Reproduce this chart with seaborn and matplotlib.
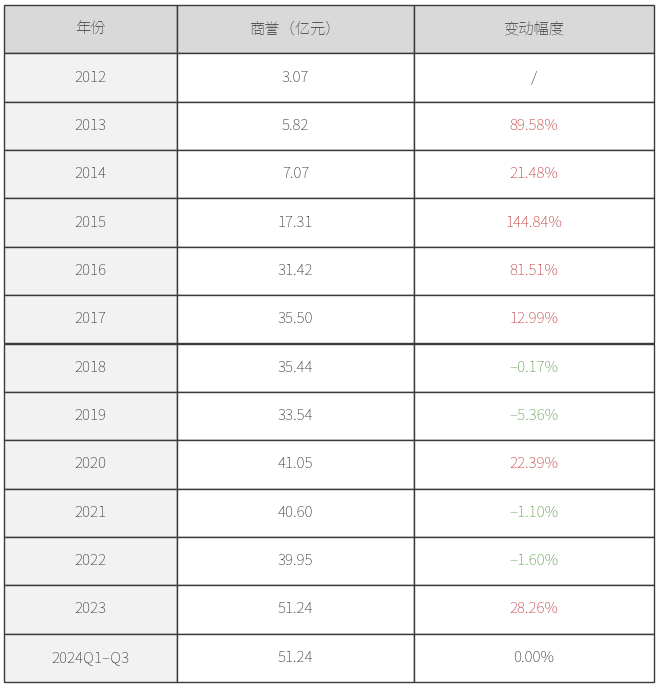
import numpy as np
import matplotlib
matplotlib.use("Agg")
import matplotlib.pyplot as plt
from matplotlib.patches import Rectangle
import seaborn as sns

headers = ["年份", "商誉（亿元）", "变动幅度"]
years = ["2012", "2013", "2014", "2015", "2016", "2017", "2018", "2019",
         "2020", "2021", "2022", "2023", "2024Q1–Q3"]
goodwill = ["3.07", "5.82", "7.07", "17.31", "31.42", "35.50", "35.44", "33.54",
            "41.05", "40.60", "39.95", "51.24", "51.24"]
changes = ["/", "89.58%", "21.48%", "144.84%", "81.51%", "12.99%", "-0.17%", "-5.36%",
           "22.39%", "-1.10%", "-1.60%", "28.26%", "0.00%"]

sns.set_theme(style="white")
plt.rcParams["font.family"] = ["Noto Sans CJK SC", "Noto Sans CJK JP", "Noto Sans CJK TC", "DejaVu Sans"]

fig = plt.figure(figsize=(6.6, 6.88), dpi=100)
ax = fig.add_axes([0, 0, 1, 1])
ax.set_xlim(0, 660)
ax.set_ylim(688, 0)
ax.axis("off")

col_edges = [4, 177, 414, 654]
top, bottom = 5, 682
nrows = len(years) + 1
rh = (bottom - top) / nrows

def color_for(c):
    if c.startswith("-"):
        return "#5b9a4b"
    if c in ("/", "0.00%"):
        return "#333333"
    return "#c0393b"

for r in range(nrows):
    y0 = top + r * rh
    for c in range(3):
        x0, x1 = col_edges[c], col_edges[c + 1]
        if r == 0:
            fc = "#d9d9d9"
        elif c == 0:
            fc = "#f2f2f2"
        else:
            fc = "#ffffff"
        ax.add_patch(Rectangle((x0, y0), x1 - x0, rh, facecolor=fc,
                               edgecolor="#3a3a3a", linewidth=1.0))
        if r == 0:
            txt, col = headers[c], "#333333"
        else:
            i = r - 1
            if c == 0:
                txt, col = years[i], "#333333"
            elif c == 1:
                txt, col = goodwill[i], "#333333"
            else:
                txt, col = changes[i].replace("-", "–"), color_for(changes[i])
        ax.text((x0 + x1) / 2, y0 + rh / 2, txt, ha="center", va="center",
                fontsize=11, color=col, fontweight="light")

fig.savefig("out.png", dpi=100)
